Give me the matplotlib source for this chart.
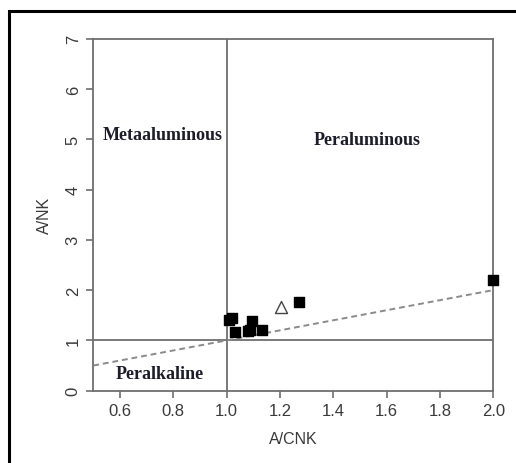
import matplotlib
matplotlib.use("Agg")
import matplotlib.pyplot as plt
from matplotlib.patches import Rectangle

# data
sq_x = [1.01, 1.02, 1.03, 1.079, 1.088, 1.094, 1.131, 1.27, 2.0]
sq_y = [1.40, 1.44, 1.17, 1.19, 1.20, 1.39, 1.21, 1.77, 2.2]
tri_x = [1.204]
tri_y = [1.67]
line_x = [0.5, 2.0]
line_y = [0.5, 2.0]
xticks = [0.6, 0.8, 1.0, 1.2, 1.4, 1.6, 1.8, 2.0]
yticks = [0, 1, 2, 3, 4, 5, 6, 7]
labels = ["Metaaluminous", "Peraluminous", "Peralkaline"]
label_pos = [(0.761, 5.09), (1.528, 4.99), (0.75, 0.345)]

fig = plt.figure(figsize=(5.16, 4.64), dpi=100)
W, H = 516, 464
ax = fig.add_axes([93.3 / W, 1 - 391.7 / H, (493.3 - 93.3) / W, (391.7 - 39.6) / H])

gray = "#6e6e6e"
ax.axvline(1.0, color=gray, lw=1.3, zorder=1)
ax.axhline(1.0, color=gray, lw=1.3, zorder=1)
ax.plot(line_x, line_y, color="#8a8a8a", lw=1.4, ls=(0, (3, 2)), zorder=1)
ax.scatter(sq_x, sq_y, marker="s", s=44, color="black", zorder=3, clip_on=False)
ax.scatter(tri_x, tri_y, marker="^", s=75, facecolor="white", edgecolor="#444444",
           linewidths=1.0, zorder=3)

ax.set_xlim(0.5, 2.0)
ax.set_ylim(0, 7)
ax.set_xticks(xticks)
ax.set_xticklabels([f"{v:.1f}" for v in xticks])
ax.set_yticks(yticks)
for s in ax.spines.values():
    s.set_color(gray)
    s.set_linewidth(1.3)
ax.tick_params(colors=gray, labelcolor="#3a3a3a", direction="out", length=5, width=1.2,
               labelsize=12, pad=4)
for lab in ax.get_yticklabels():
    lab.set_rotation(90)
    lab.set_va("center")
ax.set_xlabel("A/CNK", fontsize=11.5, color="#3a3a3a", labelpad=9,
              family="Liberation Sans")
ax.set_ylabel("A/NK", fontsize=11.5, color="#3a3a3a", labelpad=10,
              family="Liberation Sans")
for lab in ax.get_xticklabels() + ax.get_yticklabels():
    lab.set_family("Liberation Sans")

for t, (x, y) in zip(labels, label_pos):
    ax.text(x, y, t, ha="center", va="center", fontsize=13, fontweight="bold",
            family="Liberation Serif", color="#1c1c2a")

fig.patches.append(Rectangle((9 / W, -0.05), 1.1, 1 - 12 / H + 0.05,
                             transform=fig.transFigure, fill=False,
                             edgecolor="black", lw=2.2))

fig.savefig("out.png", dpi=100)
